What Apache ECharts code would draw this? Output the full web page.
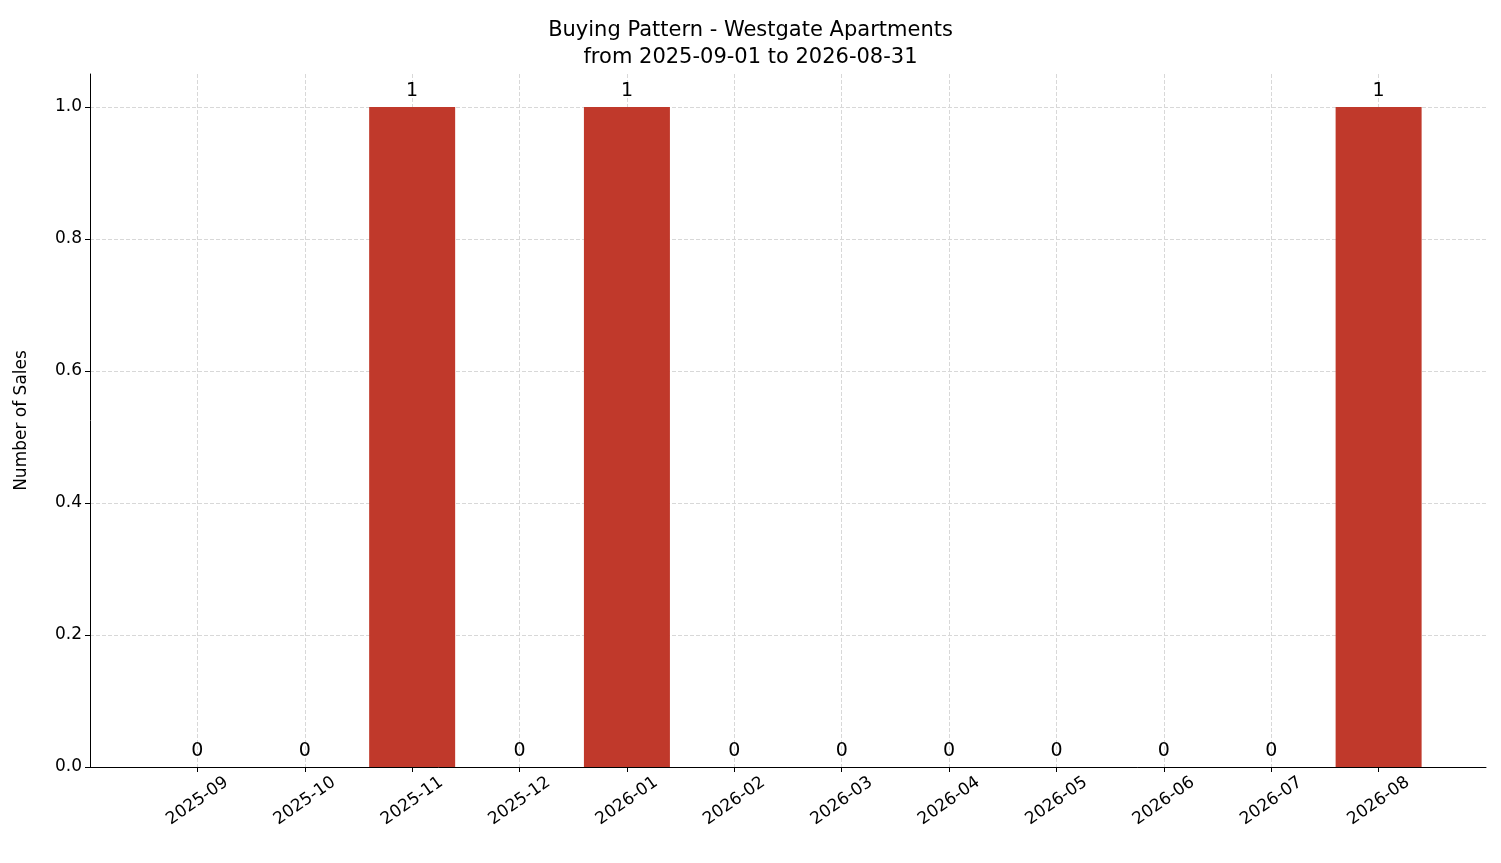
<!DOCTYPE html>
<html><head><meta charset="utf-8">
<script src="https://cdn.jsdelivr.net/npm/echarts@6/dist/echarts.min.js"></script>
<style>html,body{margin:0;padding:0;background:#fff}#c{width:1501px;height:863px}</style>
</head><body><div id="c"></div>
<script>
const categories = ['2025-09','2025-10','2025-11','2025-12','2026-01','2026-02','2026-03','2026-04','2026-05','2026-06','2026-07','2026-08'];
const sales = [0,0,1,0,1,0,0,0,0,0,0,1];
const yTicks = [0,0.2,0.4,0.6,0.8,1.0];

const cats = [''].concat(categories, ['']);
const vals = ['-'].concat(sales, ['-']);
const inner = (i) => i > 0 && i < cats.length - 1;
const chart = echarts.init(document.getElementById('c'));
chart.setOption({
  animation: false,
  title: {
    text: 'Buying Pattern - Westgate Apartments\nfrom 2025-09-01 to 2026-08-31',
    left: 'center', top: 12,
    textStyle: { fontFamily: 'DejaVu Sans', fontSize: 21, fontWeight: 'normal', color: '#000', lineHeight: 27 }
  },
  grid: { left: 90, right: 15, top: 74, bottom: 96 },
  xAxis: {
    type: 'category', data: cats, boundaryGap: false,
    axisLine: { lineStyle: { color: '#000' } },
    axisTick: { interval: inner, length: 5, lineStyle: { color: '#000' } },
    axisLabel: { interval: inner, rotate: 35, align: 'center', verticalAlign: 'middle', color: '#000', fontFamily: 'DejaVu Sans', fontSize: 17, margin: 34 },
    splitLine: { show: true, interval: inner, lineStyle: { type: 'dashed', color: '#d8d8d8' } }
  },
  yAxis: {
    type: 'value', min: 0, max: 1.05, interval: 0.2,
    name: 'Number of Sales', nameLocation: 'middle', nameGap: 60,
    nameTextStyle: { fontFamily: 'DejaVu Sans', fontSize: 17, color: '#000' },
    axisLine: { show: true, lineStyle: { color: '#000' } },
    axisTick: { show: true, length: 5, lineStyle: { color: '#000' } },
    axisLabel: { color: '#000', fontFamily: 'DejaVu Sans', fontSize: 17, showMaxLabel: false,
      formatter: v => yTicks.some(t => Math.abs(t - v) < 1e-9) ? v.toFixed(1) : '' },
    splitLine: { show: true, showMaxLine: false, lineStyle: { type: 'dashed', color: '#d8d8d8' } }
  },
  series: [{
    type: 'bar', data: vals, barWidth: 86,
    itemStyle: { color: '#c0392b' },
    label: { show: true, position: 'top', distance: 6, color: '#000', fontFamily: 'DejaVu Sans', fontSize: 19 }
  }]
});
</script></body></html>
